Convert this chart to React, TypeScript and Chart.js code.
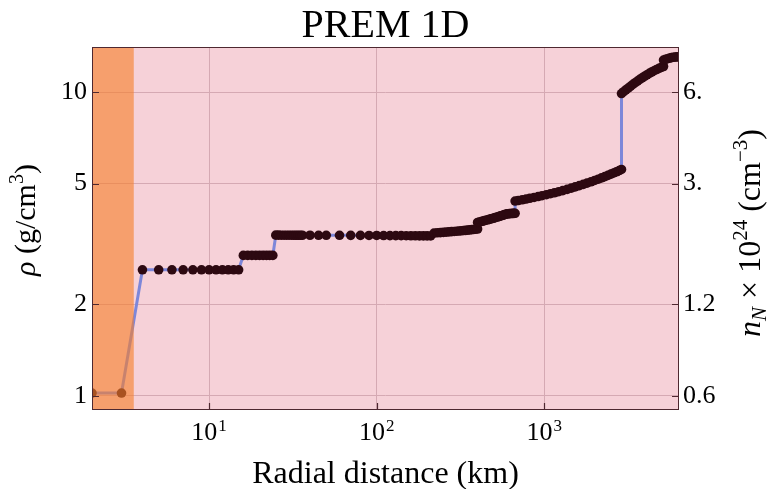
import React, { useEffect, useRef } from 'react';
import { Chart, registerables } from 'chart.js';

Chart.register(...registerables);

// Depth below surface (km) of each PREM sample
const depthKm = [
  2, 3,
  4, 5, 6, 7, 8, 9, 10, 11, 12, 13, 14, 15,
  16, 17, 18, 19, 20, 21, 22, 23, 24,
  25, 26, 27, 28, 29, 30, 31, 32, 33, 34, 35, 36,
  40, 45, 50, 60, 70, 80, 90, 100, 110, 120, 130, 140, 150, 160, 170, 180, 190, 200, 210,
  220, 230, 240, 250, 260, 270, 280, 290, 300, 310, 320, 330, 340, 350, 360, 370, 380, 390, 400,
  400, 410, 420, 430, 440, 450, 460, 470, 480, 490, 500, 510, 520, 530, 540, 550, 560, 570, 580, 590, 600,
  610, 620, 630, 640, 650, 660, 670,
  670, 700, 740, 780, 820, 870, 920, 970, 1030, 1090, 1150, 1220, 1290, 1370, 1450, 1530, 1620, 1710, 1800,
  1900, 2000, 2100, 2200, 2300, 2400, 2500, 2600, 2700, 2800, 2891,
  2891, 2980, 3070, 3170, 3270, 3380, 3490, 3600, 3720, 3840, 3970, 4100, 4240, 4380, 4530, 4680, 4840, 5000, 5150,
  5150, 5300, 5450, 5600, 5750, 5900, 6050, 6200, 6371,
];

// Density (g/cm^3) at each depth
const densityGcm3 = [
  1.02, 1.02,
  2.6, 2.6, 2.6, 2.6, 2.6, 2.6, 2.6, 2.6, 2.6, 2.6, 2.6, 2.6,
  2.9, 2.9, 2.9, 2.9, 2.9, 2.9, 2.9, 2.9, 2.9,
  3.381, 3.381, 3.380, 3.380, 3.380, 3.380, 3.380, 3.379, 3.379, 3.379, 3.379, 3.379,
  3.379, 3.378, 3.378, 3.377, 3.376, 3.375, 3.374, 3.373, 3.371, 3.370, 3.369, 3.368, 3.367, 3.366, 3.365, 3.364, 3.363, 3.362, 3.361,
  3.436, 3.442, 3.448, 3.454, 3.460, 3.466, 3.472, 3.478, 3.484, 3.490, 3.496, 3.501, 3.507, 3.513, 3.519, 3.525, 3.531, 3.537, 3.543,
  3.724, 3.736, 3.749, 3.762, 3.774, 3.787, 3.799, 3.812, 3.825, 3.837, 3.850, 3.862, 3.875, 3.888, 3.900, 3.913, 3.925, 3.938, 3.951, 3.963, 3.976,
  3.978, 3.981, 3.983, 3.985, 3.988, 3.990, 3.992,
  4.381, 4.399, 4.424, 4.448, 4.472, 4.502, 4.532, 4.562, 4.597, 4.631, 4.664, 4.703, 4.742, 4.786, 4.832, 4.876, 4.923, 4.970, 5.017,
  5.069, 5.121, 5.171, 5.221, 5.271, 5.321, 5.372, 5.421, 5.471, 5.521, 5.566,
  9.904, 10.044, 10.180, 10.325, 10.466, 10.611, 10.754, 10.888, 11.028, 11.161, 11.292, 11.418, 11.544, 11.662, 11.779, 11.886, 11.988, 12.081, 12.161,
  12.764, 12.839, 12.904, 12.959, 13.005, 13.040, 13.066, 13.082, 13.089,
];

const xTickValues = [10, 100, 1000];
const xTickExponents = ['1', '2', '3'];
const yTickValues = [1, 2, 5, 10];
const yTickLabels = ['1', '2', '5', '10'];
const rightTickValues = [0.6, 1.2, 3, 6];
const rightTickLabels = ['0.6', '1.2', '3.', '6.'];
const oceanEndKm = 3.55;
const titleText = 'PREM 1D';
const xTitleText = 'Radial distance (km)';

const SERIF = "'Liberation Serif', 'Times New Roman', Times, serif";

type Part = { t: string; size: number; italic?: boolean; dy?: number };

function drawRich(ctx: CanvasRenderingContext2D, parts: Part[], cx: number, cy: number, rot: number) {
  ctx.save();
  ctx.translate(cx, cy);
  ctx.rotate(rot);
  ctx.textAlign = 'left';
  ctx.textBaseline = 'alphabetic';
  ctx.fillStyle = '#000';
  const fontOf = (p: Part) => `${p.italic ? 'italic ' : ''}${p.size}px ${SERIF}`;
  const widths = parts.map((p) => {
    ctx.font = fontOf(p);
    return ctx.measureText(p.t).width;
  });
  const total = widths.reduce((a, b) => a + b, 0);
  let x = -total / 2;
  parts.forEach((p, i) => {
    ctx.font = fontOf(p);
    ctx.fillText(p.t, x, p.dy || 0);
    x += widths[i];
  });
  ctx.restore();
}

export default function App() {
  const ref = useRef<HTMLCanvasElement>(null);

  useEffect(() => {
    const canvas = ref.current;
    if (!canvas) return;
    const points = depthKm.map((d, i) => ({ x: d, y: densityGcm3[i] }));

    const deco = {
      id: 'deco',
      beforeDraw(chart: any) {
        const { ctx, chartArea: a } = chart;
        ctx.save();
        ctx.fillStyle = '#ffffff';
        ctx.fillRect(0, 0, chart.width, chart.height);
        ctx.fillStyle = '#f6d1d8';
        ctx.fillRect(a.left, a.top, a.right - a.left, a.bottom - a.top);
        ctx.restore();
      },
      afterDatasetsDraw(chart: any) {
        const { ctx, chartArea: a, scales } = chart;
        const xs = scales.x;
        const ys = scales.y;
        ctx.save();
        // ocean band
        const xe = xs.getPixelForValue(oceanEndKm);
        ctx.fillStyle = 'rgba(245,128,43,0.62)';
        ctx.fillRect(a.left, a.top, xe - a.left, a.bottom - a.top);
        // frame
        ctx.strokeStyle = '#4e2830';
        ctx.lineWidth = 1;
        ctx.strokeRect(Math.round(a.left) + 0.5, Math.round(a.top) + 0.5, Math.round(a.right - a.left) - 1, Math.round(a.bottom - a.top) - 1);
        // inward ticks
        ctx.strokeStyle = '#4e2830';
        ctx.lineWidth = 1.2;
        ctx.beginPath();
        yTickValues.forEach((v) => {
          const y = Math.round(ys.getPixelForValue(v)) + 0.5;
          ctx.moveTo(a.left, y);
          ctx.lineTo(a.left + 7, y);
          ctx.moveTo(a.right, y);
          ctx.lineTo(a.right - 7, y);
        });
        xTickValues.forEach((v) => {
          const x = Math.round(xs.getPixelForValue(v)) + 0.5;
          ctx.moveTo(x, a.bottom);
          ctx.lineTo(x, a.bottom - 7);
        });
        ctx.stroke();
        ctx.restore();
      },
      afterDraw(chart: any) {
        const { ctx, chartArea: a, scales } = chart;
        const xs = scales.x;
        const midX = (a.left + a.right) / 2;
        // title
        drawRich(ctx, [{ t: titleText, size: 40 }], midX, 37, 0);
        // x tick labels with superscripts
        xTickValues.forEach((v, i) => {
          const x = xs.getPixelForValue(v);
          ctx.save();
          ctx.font = `26px ${SERIF}`;
          const w1 = ctx.measureText('10').width;
          ctx.font = `17px ${SERIF}`;
          const w2 = ctx.measureText(xTickExponents[i]).width;
          const x0 = x - (w1 + w2 + 1) / 2;
          ctx.fillStyle = '#000';
          ctx.textBaseline = 'alphabetic';
          ctx.textAlign = 'left';
          ctx.font = `26px ${SERIF}`;
          ctx.fillText('10', x0, 440);
          ctx.font = `17px ${SERIF}`;
          ctx.fillText(xTickExponents[i], x0 + w1 + 1, 431);
          ctx.restore();
        });
        // x axis title
        drawRich(ctx, [{ t: xTitleText, size: 32 }], midX, 483, 0);
        // left axis title
        drawRich(
          ctx,
          [
            { t: 'ρ', size: 30, italic: true },
            { t: ' (g/cm', size: 30 },
            { t: '3', size: 20, dy: -12 },
            { t: ')', size: 30 },
          ],
          35,
          220,
          -Math.PI / 2
        );
        // right axis title
        drawRich(
          ctx,
          [
            { t: 'n', size: 32, italic: true },
            { t: 'N', size: 21, italic: true, dy: 6 },
            { t: ' × 10', size: 32 },
            { t: '24', size: 21, dy: -13 },
            { t: ' (cm', size: 32 },
            { t: '−3', size: 21, dy: -13 },
            { t: ')', size: 32 },
          ],
          760,
          233,
          -Math.PI / 2
        );
      },
    };

    const chart = new Chart(canvas, {
      type: 'scatter',
      data: {
        datasets: [
          {
            data: points,
            showLine: true,
            borderColor: '#7d87d9',
            borderWidth: 3,
            pointRadius: 4.8,
            pointHoverRadius: 4.8,
            pointBackgroundColor: '#2d0911',
            pointBorderWidth: 0,
            pointBorderColor: '#2d0911',
          },
        ],
      },
      options: {
        responsive: false,
        animation: false,
        events: [],
        layout: { padding: { top: 47, left: 0, right: 0, bottom: 0 } },
        plugins: {
          legend: { display: false },
          tooltip: { enabled: false },
          title: { display: false },
        },
        scales: {
          x: {
            type: 'logarithmic',
            position: 'bottom',
            min: 2,
            max: 6371,
            bounds: 'data',
            afterBuildTicks: (s: any) => {
              s.ticks = xTickValues.map((v) => ({ value: v }));
            },
            afterFit: (s: any) => {
              s.height = 79;
            },
            ticks: { display: false },
            grid: { color: '#d5a9b3', lineWidth: 1, drawTicks: false },
            border: { display: false },
          },
          y: {
            type: 'logarithmic',
            position: 'left',
            min: 0.897,
            max: 14.1,
            bounds: 'data',
            afterBuildTicks: (s: any) => {
              s.ticks = yTickValues.map((v) => ({ value: v }));
            },
            afterFit: (s: any) => {
              s.width = 92;
            },
            ticks: {
              autoSkip: false,
              padding: 5,
              color: '#000',
              font: { family: SERIF, size: 26 },
              callback: (_v: any, i: number) => yTickLabels[i],
            },
            grid: { color: '#d5a9b3', lineWidth: 1, drawTicks: false },
            border: { display: false },
          },
          y2: {
            type: 'logarithmic',
            position: 'right',
            min: 0.897 * 0.6,
            max: 14.1 * 0.6,
            bounds: 'data',
            afterBuildTicks: (s: any) => {
              s.ticks = rightTickValues.map((v) => ({ value: v }));
            },
            afterFit: (s: any) => {
              s.width = 91;
            },
            ticks: {
              autoSkip: false,
              padding: 4,
              color: '#000',
              font: { family: SERIF, size: 26 },
              callback: (_v: any, i: number) => rightTickLabels[i],
            },
            grid: { display: false, drawTicks: false },
            border: { display: false },
          },
        },
      } as any,
      plugins: [deco],
    });

    return () => chart.destroy();
  }, []);

  return (
    <div style={{ position: 'absolute', left: 0, top: 0, width: 770, height: 489, background: '#fff' }}>
      <canvas ref={ref} width={770} height={489} style={{ display: 'block', width: 770, height: 489 }} />
    </div>
  );
}
